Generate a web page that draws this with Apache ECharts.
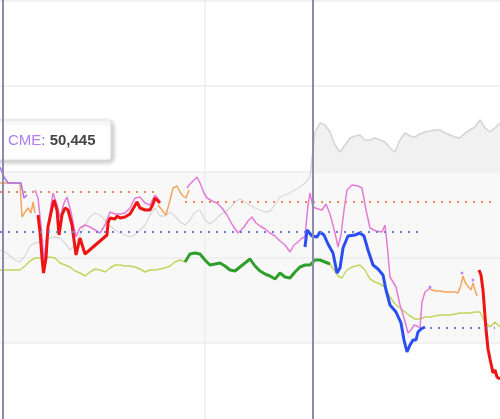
<!DOCTYPE html>
<html><head><meta charset="utf-8">
<script src="https://cdn.jsdelivr.net/npm/echarts@6/dist/echarts.min.js"></script>
<style>html,body{margin:0;padding:0;background:#fff}#c{width:500px;height:419px}</style>
</head><body><div id="c"></div>
<script>
// x = day index, y = index level (axis units)
const grayBefore = [[0,179],[5,177],[10,173],[15,169],[20,167],[25,173],[30,183],[35,186],[40,187],[45,189],[50,191],[55,192],[60,191],[65,186],[70,179],[75,184],[80,194],[85,204],[90,212],[95,216],[100,214],[105,209],[110,203],[115,199],[120,196],[125,194],[130,192],[135,194],[140,199],[145,204],[150,214],[155,221],[160,213],[165,213],[170,217],[175,213],[180,207],[185,204],[190,209],[195,217],[200,219],[205,209],[210,205],[215,209],[220,214],[225,217],[230,221],[235,227],[240,230],[245,227],[250,224],[255,221],[260,219],[265,217],[270,218],[275,224],[280,232],[285,234],[290,236],[295,239],[300,242],[305,246],[310,252]];
const grayAfter = [[310,252],[313,280],[315,297],[320,306],[325,304],[330,297],[335,284],[340,277],[345,284],[350,291],[355,293],[360,294],[365,289],[370,289],[375,291],[380,289],[385,287],[390,281],[395,277],[400,289],[405,296],[410,293],[415,292],[420,295],[425,297],[430,298],[435,299],[440,299],[445,296],[450,294],[455,292],[460,291],[465,296],[470,299],[475,302],[480,309],[485,301],[490,297],[495,301],[500,306]];
const limeA = [[0,159],[5,159],[10,159],[15,159],[20,159],[25,163],[30,168],[35,171],[40,171],[45,171],[50,172],[55,171],[60,166],[65,164],[70,162],[75,158],[80,156],[85,153],[90,157],[95,160],[100,159],[105,157],[110,161],[115,164],[120,164],[125,163],[130,163],[135,162],[140,160],[145,157],[150,159],[155,159],[160,160],[165,161],[170,163],[175,167],[180,169],[185,167]];
const limeB = [[330,165],[334,159],[338,153],[342,151],[346,158],[350,161],[355,163],[360,164],[365,159],[370,150],[375,147],[380,145],[385,142],[390,132],[395,125],[400,121],[405,117],[410,113],[415,110],[420,110],[425,112],[430,112],[435,113],[440,114],[445,114],[450,114],[455,115],[460,116],[465,116],[470,116],[475,117],[480,117],[485,107],[490,102],[495,107],[500,102]];
const greenBold = [[185,167],[190,175],[195,176],[200,175],[205,169],[210,164],[215,165],[220,166],[225,163],[230,159],[235,158],[240,162],[245,166],[250,170],[255,163],[260,158],[265,155],[270,153],[275,150],[280,156],[285,152],[290,151],[295,157],[300,162],[305,164],[310,164],[315,169],[320,169],[325,167],[330,165]];
const orangeA = [[0,246],[20,246],[22,212],[25,217],[28,221],[31,216],[33,227],[35,216]];
const orangeB = [[158,224],[162,219],[166,214],[170,229],[173,241],[177,243],[180,237],[183,233],[186,231],[189,239]];
const orangeC = [[430,140],[435,138],[440,138],[445,137],[450,137],[455,137],[458,136],[461,144],[463,153],[465,147],[467,144],[469,146],[471,139],[473,146],[475,139],[477,133]];
const violetA = [[0,262],[4,252],[8,246],[21,246],[24,231],[27,234]];
const pinkA = [[35,239],[38,231],[41,204],[44,167],[48,204],[53,236],[57,224],[60,211],[64,226],[67,232],[71,217],[76,192],[80,201],[85,204],[90,202],[95,199],[100,196],[105,204],[110,217],[115,215],[120,215],[125,216],[130,221],[135,231],[140,232],[145,226],[150,224],[155,234],[160,228]];
const pinkB = [[187,241],[190,245],[193,248],[197,252],[200,246],[204,236],[207,231],[212,228],[217,226],[222,221],[227,214],[233,203],[238,196],[240,195],[244,202],[248,208],[252,212],[256,206],[260,203],[265,200],[270,196],[275,193],[280,188],[285,184],[290,177],[294,184],[298,187],[302,191],[305,192],[308,224],[310,236],[313,222],[318,220],[322,219],[326,225],[330,215],[335,196],[338,182],[341,194],[344,219],[347,239],[352,244],[358,243],[362,241],[366,219],[370,201],[376,198],[382,197],[385,204],[387,186],[390,152],[396,142],[400,124],[404,111],[408,96],[411,99],[414,104],[417,103],[420,101],[422,127],[425,137],[430,141]];
const redA = [[38,214],[40,197],[42,171],[43.5,156],[46,171],[48,202],[50,204],[52,221],[54,229],[57,219],[59,194],[62,214],[65,221],[68,219],[72,204],[76,174],[80,191],[82,192],[85,175],[107,194],[108,206],[110,211],[115,210],[117,213],[120,211],[122,210],[125,212],[130,215],[132,217],[137,227],[140,221],[145,219],[150,219],[153,225],[155,231],[157,232],[160,226]];
const redB = [[479,159],[481,154],[483,139],[486,100],[488,80],[490,70],[493,56],[495,59],[497,52],[500,50]];
const blueBold = [[305,182],[307,199],[312,193],[317,192],[320,197],[324,194],[328,185],[333,176],[337,156],[340,161],[343,181],[348,193],[355,194],[360,196],[364,193],[368,179],[373,164],[378,160],[383,154],[386,139],[390,124],[396,117],[401,106],[404,89],[407,77],[410,84],[413,89],[416,89],[418,97],[421,100],[425,102]];
const violetMarks = [[430,142],[462,156],[473,149]];
const orangeAvgA = [[0,237],[158,237]];
const orangeAvgB = [[185,227],[497,227]];
const blueAvgA = [[0,197],[423,197]];
const blueAvgB = [[430,101],[495,101]];
const gridLevels = [86, 171.5, 257, 343, 428.5];
const bandRange = [86, 257];
const eventDays = [3, 313];
const gridDay = 205;
const tipName = 'CME';
const tipValue = '50,445';

const chart = echarts.init(document.getElementById('c'), null, {renderer: 'canvas'});
function line(data, color, width, extra) {
  return Object.assign({type: 'line', data: data, symbol: 'none', smooth: false, z: 3,
    lineStyle: {color: color, width: width}, itemStyle: {color: color}, silent: true}, extra || {});
}
const dotted = (d, c) => line(d, c, 2, {lineStyle: {color: c, width: 2, type: [2, 6]}});
const option = {
  animation: false,
  grid: {left: 0, right: 0, top: 0, bottom: 0, containLabel: false},
  xAxis: {type: 'value', min: 0, max: 500, axisLine: {show: false}, axisTick: {show: false}, axisLabel: {show: false}, splitLine: {show: false}},
  yAxis: {type: 'value', min: 10, max: 429, axisLine: {show: false}, axisTick: {show: false}, axisLabel: {show: false}, splitLine: {show: false}},
  graphic: [{
    type: 'group', z: 1, children: [
      {type: 'rect', shape: {x: -10, y: 120, width: 121, height: 40, r: 3},
       style: {fill: '#ffffff', stroke: '#e2e2e2', lineWidth: 1, shadowBlur: 5, shadowOffsetX: 2, shadowOffsetY: 2, shadowColor: 'rgba(0,0,0,0.25)'}},
      {type: 'text', x: 8, y: 141, style: {text: '{n|' + tipName + '}{s|: }{v|' + tipValue + '}', verticalAlign: 'middle',
        rich: {n: {fill: '#b07cf0', fontSize: 15, fontFamily: 'Liberation Sans'},
               s: {fill: '#777', fontSize: 15, fontFamily: 'Liberation Sans'},
               v: {fill: '#444', fontSize: 15, fontWeight: 'bold', fontFamily: 'Liberation Sans'}}}}
    ]}],
  series: [
    {type: 'line', data: [], z: 0, silent: true,
      markArea: {z: 0, silent: true, itemStyle: {color: 'rgba(0,0,0,0.028)'}, data: [[{yAxis: bandRange[0]}, {yAxis: bandRange[1]}]]},
      markLine: {z: 1, silent: true, symbol: 'none', label: {show: false}, lineStyle: {color: '#ececec', width: 1.5, type: 'solid'},
        data: [{xAxis: gridDay}].concat(gridLevels.map(v => ({yAxis: v})))}},
    line(grayAfter, '#d4d4d4', 1.5, {z: 2, areaStyle: {color: '#f1f1f1', opacity: 1, origin: bandRange[1]}}),
    line(grayBefore, '#d8d8d8', 1.3),
    line(limeA, '#c2d35e', 1.5),
    line(limeB, '#c2d35e', 1.5),
    line(greenBold, '#2f9f2a', 3),
    line(orangeA, '#f5a45c', 1.5),
    line(orangeB, '#f5a45c', 1.5),
    line(orangeC, '#f5a45c', 1.5),
    line(violetA, '#a870ee', 1.5),
    line(pinkA, '#e47ad6', 1.5),
    line(pinkB, '#e47ad6', 1.5),
    line(redA, '#ee1414', 3),
    line(redB, '#ee1414', 3),
    line(blueBold, '#2b4ef0', 3),
    {type: 'scatter', data: violetMarks, symbol: 'circle', symbolSize: 3, z: 3, silent: true, itemStyle: {color: '#a870ee'}},
    dotted(orangeAvgA, '#f0875a'),
    dotted(orangeAvgB, '#f0875a'),
    dotted(blueAvgA, '#6a80dc'),
    dotted(blueAvgB, '#6a80dc'),
    line([], '#8e8aad', 2, {z: 6, markLine: {z: 6, silent: true, symbol: 'none', label: {show: false},
      lineStyle: {color: '#8e8aad', width: 2, type: 'solid'}, data: eventDays.map(d => ({xAxis: d}))}})
  ]
};
chart.setOption(option);
</script></body></html>
